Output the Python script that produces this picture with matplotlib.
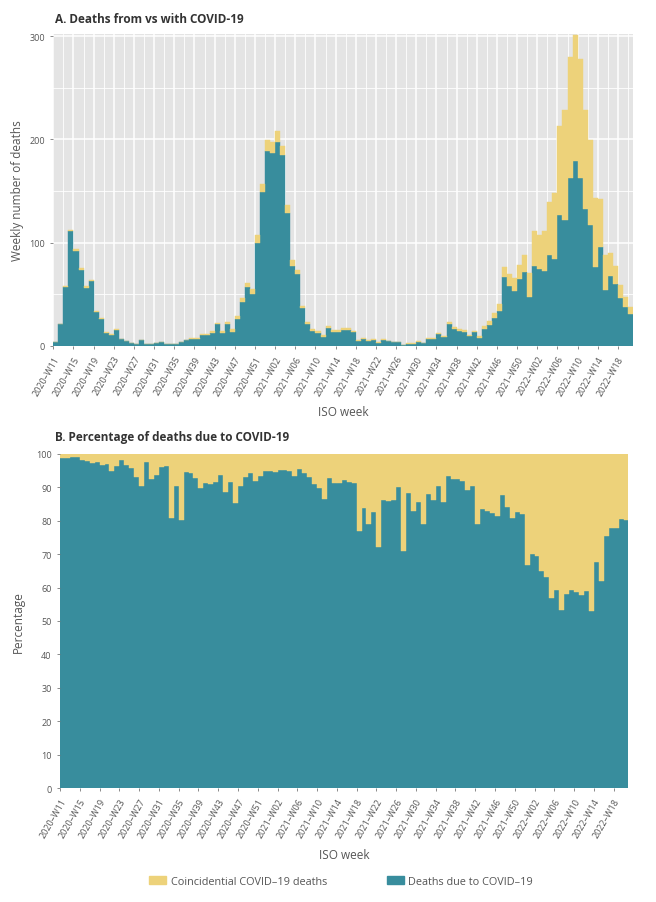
import numpy as np
import matplotlib.pyplot as plt
from matplotlib.patches import Patch

# weekly deaths (total = due + coincidental), 2020-W11 .. 2022-W20
total_deaths = [4, 21, 58, 112, 94, 75, 58, 64, 34, 27,
                13, 11, 16, 7, 5, 3, 2, 6, 2, 2,
                3, 4, 2, 2, 2, 4, 6, 7.5, 7.5, 11,
                11, 14, 22.5, 14, 23.5, 16, 29, 46, 60.5, 55,
                107, 157, 199.5, 198, 208, 194, 136, 83, 73, 39,
                23, 16, 14, 10, 19, 15, 15, 17, 17, 14.5,
                5.5, 7.4, 5.5, 6.2, 3.9, 6.5, 4.8, 3.9, 3.9, 0.7,
                2.3, 2.6, 4.8, 2.9, 7.4, 7.4, 12.3, 9.4, 22.6, 17.7,
                16, 15, 10.6, 14.5, 9.3, 19.3, 24.1, 32.2, 40.9, 76.6,
                69.2, 65.3, 77.9, 87.5, 70.8, 111, 107, 111.6, 139, 148,
                213, 229, 280, 301, 278, 229, 199, 143, 142, 88,
                89.5, 77, 59, 47, 38]

# percentage of deaths due to COVID-19
pct_due = [98.6, 98.7, 98.9, 98.9, 98.2, 97.7, 97.1, 97.6, 96.6, 96.9,
           94.9, 96.3, 98.2, 96.6, 95.6, 92.9, 90.4, 97.4, 92.4, 93.7,
           95.9, 96.3, 80.9, 90.4, 80.2, 94.4, 94.3, 92.6, 89.7, 91.2,
           90.9, 91.4, 93.6, 88.6, 91.4, 85.2, 90.2, 92.9, 94.1, 91.7,
           93.3, 94.7, 94.7, 94.6, 95.1, 95.2, 94.7, 93.4, 95.4, 94.2,
           92.9, 90.9, 89.8, 86.5, 92.6, 91.1, 91.1, 92.1, 91.6, 91.1,
           77.0, 83.7, 78.9, 82.5, 72.0, 86.3, 85.9, 86.3, 90.1, 71.0,
           88.2, 82.9, 85.6, 78.9, 87.8, 86.3, 90.2, 85.6, 93.3, 92.4,
           92.4, 91.9, 89.0, 90.4, 79.0, 83.5, 82.8, 82.3, 81.3, 87.6,
           84.1, 80.8, 82.5, 82.1, 66.8, 70.0, 69.5, 65.0, 63.0, 56.8,
           59.4, 53.3, 58.0, 59.4, 58.6, 57.8, 58.9, 53.1, 67.5, 61.9,
           75.3, 77.7, 77.7, 80.5, 80.3]

weeks_2020 = range(11, 54)
weeks_2021 = range(1, 53)
weeks_2022 = range(1, 21)
week_labels = ([f"2020\u2013W{w:02d}" for w in weeks_2020]
               + [f"2021\u2013W{w:02d}" for w in weeks_2021]
               + [f"2022\u2013W{w:02d}" for w in weeks_2022])

teal = "#388D9D"
yellow = "#EDD27A"
panel_bg = "#E4E4E4"
txt = "#555555"

plt.rcParams['font.family'] = ['Open Sans', 'DejaVu Sans']

total = np.array(total_deaths, dtype=float)
pct = np.array(pct_due)
due = total * pct / 100
coinc = total - due
x = np.arange(len(total))
n = len(total)


def style_axis(ax):
    for s in ax.spines.values():
        s.set_visible(False)
    ax.tick_params(axis='both', colors="#777777", labelcolor=txt, length=2.5, width=0.6)
    ax.tick_params(axis='y', labelsize=6.5)
    ax.set_xlim(0, n)
    ax.set_xticks(x[::4])
    ax.set_xticklabels(week_labels[::4], rotation=60, ha='right', va='top',
                       rotation_mode='anchor', fontsize=6.5)
    ax.set_xlabel("ISO week", fontsize=8.5, color=txt, labelpad=6)


fig = plt.figure(figsize=(6.56, 9.03), dpi=100)

# Panel A
axA = fig.add_axes([0.0813, 0.616, 0.8837, 0.345])
axA.set_facecolor(panel_bg)
axA.set_axisbelow(True)
axA.bar(x, due, width=1, align='edge', color=teal, edgecolor=teal, linewidth=0.3)
axA.bar(x, coinc, bottom=due, width=1, align='edge', color=yellow,
        edgecolor=yellow, linewidth=0.3)
style_axis(axA)
axA.set_ylim(0, 302)
axA.set_yticks([0, 100, 200, 300])
axA.set_yticks([50, 150, 250], minor=True)
axA.set_xticks(x[2::4], minor=True)
axA.tick_params(which='minor', length=0)
axA.grid(which='major', color='white', linewidth=1.1)
axA.grid(which='minor', color='white', linewidth=0.6)
axA.set_ylabel("Weekly number of deaths", fontsize=8.5, color=txt, labelpad=4)
fig.text(0.084, 0.978, "A. Deaths from vs with COVID-19", fontsize=8.5,
         fontweight='bold', color="#333333", va='center')

# Panel B
axB = fig.add_axes([0.0915, 0.1259, 0.8665, 0.3706])
axB.bar(x, pct, width=1, align='edge', color=teal, edgecolor=teal, linewidth=0.3)
axB.bar(x, 100 - pct, bottom=pct, width=1, align='edge', color=yellow,
        edgecolor=yellow, linewidth=0.3)
style_axis(axB)
axB.set_ylim(0, 100)
axB.set_yticks(np.arange(0, 101, 10))
axB.set_ylabel("Percentage", fontsize=8.5, color=txt, labelpad=8)
fig.text(0.084, 0.516, "B. Percentage of deaths due to COVID-19", fontsize=8.5,
         fontweight='bold', color="#333333", va='center')

handles = [Patch(color=yellow, label="Coincidential COVID\u201319 deaths"),
           Patch(color=teal, label="Deaths due to COVID\u201319")]
leg = fig.legend(handles=handles, loc='center', bbox_to_anchor=(0.52, 0.023),
                 ncol=2, frameon=False, fontsize=7.8, handlelength=1.6,
                 handleheight=0.7, handletextpad=0.4, columnspacing=5.5)
for t in leg.get_texts():
    t.set_color(txt)

fig.savefig("out.png", dpi=100)
